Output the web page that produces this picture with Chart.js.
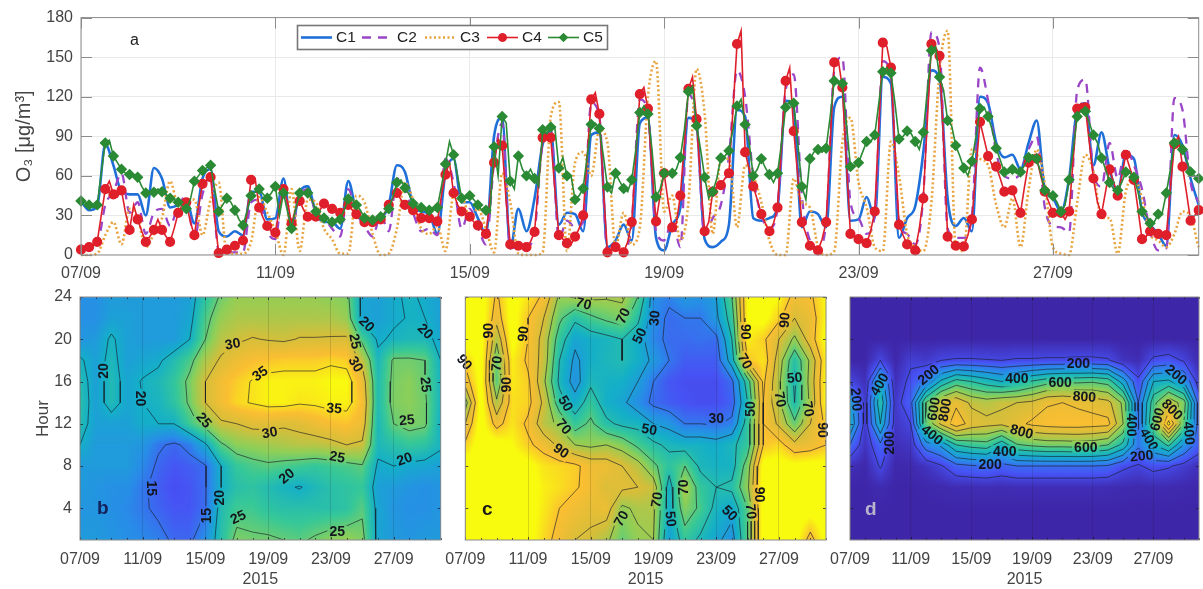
<!DOCTYPE html>
<html>
<head>
<meta charset="utf-8">
<style>
  html, body { margin: 0; padding: 0; background: #fff; overflow: hidden; }
  canvas { position: absolute; left: 0; top: 0; filter: blur(0.35px); }
</style>
<script src="https://cdn.jsdelivr.net/npm/chart.js@4/dist/chart.umd.min.js"></script>
</head>
<body>
<canvas id="chartA" width="1203" height="589"></canvas>
<canvas id="chartB" width="1203" height="589"></canvas>
<canvas id="chartC" width="1203" height="589"></canvas>
<canvas id="chartD" width="1203" height="589"></canvas>
<script>
// x axis is days since 07/09, one tick label every 4 days
const dayTicks = ['07/09', '11/09', '15/09', '19/09', '23/09', '27/09'];
const o3Ticks = [0, 30, 60, 90, 120, 150, 180];
const hourTicks = [4, 8, 12, 16, 20, 24];
const seriesNames = ['C1', 'C2', 'C3', 'C4', 'C5'];

// O3 read every 4 hours
const c1 = [41,34,37,84,68,48,46,46,30,66,58,36,38,42,24,58,65,18,14,18,15,48,48,27,28,58,20,48,52,32,25,25,20,56,33,26,27,28,38,68,63,38,
  33,31,16,62,73,40,40,28,16,90,104,5,35,18,43,84,94,23,32,31,18,91,93,6,11,23,11,100,104,13,3.5,23,36,104,98,12,6,10,23,110,105,28,26,28,36,117,110,21,33,31,
  21,112,120,26,27,44,28,135,130,13,28,37,78,140,133,43,22,28,18,120,115,85,74,76,65,85,102,50,43,33,58,110,115,68,93,65,48,76,73,33,23,16,7,91,83,58,38];
const c2 = [3,6,8,38,48,62,32,40,16,32,35,22,38,44,12,46,60,3,2,2,2,40,42,18,12,54,22,45,50,32,28,20,14,50,32,22,14,30,18,58,50,32,
  18,20,15,73,55,20,35,21,8,70,100,5,6,6,18,85,95,12,26,21,25,115,105,2,5,3,25,118,108,18,11,26,6,122,100,15,28,38,75,140,120,60,30,20,36,125,137,45,11,5,
  25,140,150,40,28,16,30,147,135,25,16,8,45,169,157,20,13,13,30,142,117,78,60,58,62,80,90,36,22,21,17,125,133,62,52,85,58,81,68,50,18,3.5,5,119,110,55,40];
const c3 = [0,0,1,15,25,8,35,28,6,16,28,56,38,42,42,15,42,55,1,1,1,10,44,32,18,0,50,3,42,40,20,12,1,1,45,40,16,0,1,20,55,42,20,
  16,22,3,45,45,28,35,20,2,62,40,1,0,0,2,105,116,3,70,78,60,95,85,6,32,8,21,120,147,33,45,11,40,141,107,16,73,73,21,68,60,40,11,0,0,58,40,36,6,0,
  3,85,104,55,36,6,3,86,60,16,6,3,40,140,170,6,3,80,73,68,38,21,43,6,50,80,54,6,1,0,40,76,63,28,28,1,48,58,43,16,11,6,16,33,30,6,0];
const c4 = [4,6,10,50,46,49,19,27,10,19,19,10,32,40,15,54,59,1.5,4,7,11,57,36,22,17,50,24,41,29,29,39,35,32,38,31,25,25,27,38,47,38,34,
  28,28,25.5,61,47,33,29,22.5,16,70,83,8,7,6,17.5,89,89,15,9,14,30,118,107,2,6,2,25,122,111,25.5,62,21,45,126,103,18,48,53,62,160,78,52,31,18,36,132,94,25,7,3.5,
  25,146,127,16,12,9,33,161,142,23,8,3.5,43,160,151,14,7,6.5,27,101,75,67,48,49,32,70,73,48,32,32,33,111,112,58,31,65,45,76,57,12,18,16,15,84,67,26,34];
const c5 = [41,38,38,85,75,65,61,59,47,47.5,48,43,40,35,56,64,68,33,43,34,22.5,45,50,43,52,47,20,47,47,33,28,25,27,42.5,38,28,26.5,29,35,55,51,39,
  36,34,36,69,76,43,45,38,34,82,105,56,75,60,58,95,97,66,60,42,50.5,99,96,51.5,62,50.5,57,108,107,44,62,62,74,124,98,59,48,73.5,79,113,99,60,73,61,62,112,115,52,73,80,
  81,132,130,67,70,86,91,139,138,88,94,86,93,155,135,102,83,66,71,111,105,81,63,65,63,74,73,49,45,33,57,105,109,91,73.5,55,49,63,59,33,24,31,47,85,80,63,58];
// C4 and C5 readings half way between the markers, two hours later
const c4Mid = [7,7,30,56,44,32,38,18,14,27,14,20,38,25,36,57,28,2,5,9,32,58,28,18,36,40,35,34,29,34,38,33,35,34,28,25,25,32,43,42,36,
  31,28,27,45,70,38,31,25,19,42,88,40,8,8,10,55,92,50,12,8,20,75,123,50,4,4,10,75,127,65,45,40,24,85,135,55,25,52,58,110,170,65,42,24,24,85,142,60,16,5,
  12,85,148,70,14,10,18,98,158,80,15,5,20,102,158,85,10,6,15,65,88,68,58,47,40,52,75,60,40,32,27,72,115,85,40,48,55,60,66,35,14,17,15,50,90,47,30];
const c5Mid = [40,36,62,87,70,62,60,52,47,50,46,42,37,42,60,66,50,38,40,27,33,48,46,47,30,33,35,47,42,30,27,26,34,42,34,27,26,32,44,57,46,
  37,35,35,52,86,60,44,42,34,32,60,100,50,65,65,52,92,97,74,60,45,75,100,75,47,56,48,80,113,80,50,62,65,95,128,80,43,58,75,95,118,85,65,66,55,85,117,85,42,78,
  78,105,130,100,68,78,86,115,142,115,90,92,80,125,158,125,98,75,60,90,112,95,72,62,62,68,76,62,47,40,38,80,110,100,85,65,50,55,62,48,30,25,32,65,87,72,60];

// grids for the three panels, one value per day, rows listed from hour 24 down to hour 1
const hourNodes = [24, 22, 20, 18, 16, 14, 12, 10, 8, 6, 4, 1];
const gridB = [
  [17,17,18,18,18,18,18,18.5,22.5,25.5,27,27,27,27,27,27,26.5,26,19,18.5,19.5,20.5,19.5,18.5],
  [17,17,18.5,18.5,18,18,18,19,24,27,28,28,28,28,28,28,28,27,19,18.5,19.5,20.2,20,18.5],
  [17.5,18,20.5,18.5,18,18,18,20,25,28.5,29.5,30.2,29.8,29.5,30.2,30.2,30.3,30.5,24,19.5,20.5,21,21,19],
  [20.5,18.5,21,18.5,19,19.5,21.5,24,28,30.5,32,33,33.5,34,34,34,34.5,34,29,20.8,25.5,25.5,25,20],
  [21.5,18.5,21.3,19,20.2,21,22.8,25.8,30,32.5,34,35.2,36,36,36,36,36.5,36.5,32,21.5,25.8,26.5,25,20.5],
  [22,18.5,21.3,19,20,20.5,22.5,25.5,30,32.5,34.5,35.2,36,36,35.3,35.5,36,36,33,21.5,26,26.5,25.5,20.5],
  [21.5,18.5,18.5,18.5,19.7,20,20,23.5,26.5,29.5,30,31,31,30.5,31,32,33,33.5,32,21,25,26,25.5,20],
  [20,18,18,18,17.5,15.4,14.5,15.8,19.5,24.5,26.5,27,27.5,28,28.5,28.5,29,30,29.5,21,22,23,22.5,20.5],
  [18,18,18,18,16.5,14.5,13.5,14,14.8,20,23,24,24.5,24,23.5,23,23.5,24,24.7,19.5,20,19.3,19,18.5],
  [18,17.5,17,17,15.5,14,13,13.5,14.8,20,22,22.5,21.5,20.5,19.8,21,22,22.5,23,18.5,18,17.5,17,17.5],
  [17.5,17.5,17,16.5,15.5,14.3,13.5,13.5,14.8,21.5,23.5,23.5,22.5,22,22,22,22,22.5,24.5,19,17.5,17,17,17.5],
  [18,18,17.5,17,16.5,16,14.5,14.5,17,22,26,25.5,25.5,25,24.5,25.5,26.5,27,26,19,18,17.5,18,18]
];
const gridC = [
  [105,105,88,104,96,88,68,71,72,71,72,60,35,32,38,36,40,60,100,105,100,86,88,100],
  [105,105,84,104,90,80,62,52,58,62,65,52,35,28,30,30,38,55,100,103,92,80,84,100],
  [105,104,72,103,90,76,55,42,45,47,50,45,33,28,28,29,28,50,98,92,80,68,85,102],
  [92,104,62,98,88,76,50,38,45,48,50,45,38,30,25,25,25,45,90,96,75,52,72,98],
  [85,103,60,97,92,72,48,36,48,46,45,40,30,24,22,22,22,28,55,92,72,48,74,100],
  [65,104,72,95,93,78,54,44,55,45,42,35,28,25,23,22,22,26,50,90,72,50,72,100],
  [80,104,86,96,88,74,68,55,62,52,48,47,40,37,30,30,29,32,55,90,78,62,80,92],
  [92,106,104,100,92,86,78,70,68,70,66,58,52,48,46,46,44,48,55,90,94,83,85,90],
  [105,106,105,105,103,96,94,92,86,85,80,74,62,54,60,48,46,46,65,103,104,102,103,103],
  [105,106,105,105,104,98,95,91,87,80,82,80,76,45,72,55,50,52,68,104,105,105,105,105],
  [105,106,105,105,104,97,90,86,83,85,68,72,72,45,66,58,47,43,60,105,105,105,105,105],
  [105,106,105,105,104,94,86,80,78,72,62,68,70,40,55,48,42,36,60,104,105,105,85,104]
];
const gridD = [
  [0,0,0,0,0,0,0,0,0,0,0,0,0,0,0,0,0,0,0,0,0,0,0,0],
  [0,0,0,0,0,0,0,0,0,0,0,0,0,0,0,0,0,0,0,0,0,0,0,0],
  [0,0,0,0,0,0,0,0,0,0,0,0,0,0,0,0,0,0,0,0,0,0,0,0],
  [0,0,100,5,80,60,100,110,110,105,100,110,110,115,115,120,120,110,40,20,120,140,90,10],
  [100,30,380,30,130,220,420,540,500,450,400,440,510,560,580,580,590,560,350,120,400,420,300,50],
  [350,60,480,60,170,600,800,880,780,750,790,800,820,890,900,880,860,830,680,200,560,780,650,150],
  [400,60,400,50,100,600,820,960,860,830,820,870,920,940,950,950,940,930,700,190,620,1040,600,150],
  [200,40,180,30,50,250,320,500,540,560,430,590,620,640,640,650,640,600,470,220,400,520,300,150],
  [30,5,110,5,10,40,90,170,190,200,170,200,200,200,200,200,200,190,120,90,130,110,70,30],
  [0,0,15,0,0,5,10,20,20,25,20,25,25,25,25,25,25,20,15,10,15,15,10,5],
  [0,0,0,0,0,0,0,0,0,0,0,0,0,0,0,0,0,0,0,0,0,0,0,0],
  [0,0,0,0,0,0,0,0,0,0,0,0,0,0,0,0,0,0,0,0,0,0,0,0]
];

const levelsB = [15, 20, 25, 30, 35];
const levelsC = [30, 40, 50, 60, 70, 80, 90];
const levelsD = [100, 200, 300, 400, 500, 600, 700, 800, 900, 1000];

// contour labels: [day, hour, text, angle]
const labelsB = [[1.55,17,'20',-90],[3.83,14.4,'20',90],[7.87,12.3,'25',50],[9.74,19.5,'30',-10],[11.5,16.7,'35',-35],
  [12.1,11.1,'30',-10],[16.2,13.4,'35',5],[16.4,8.8,'25',10],[13.2,7,'20',-40],[10.1,3.1,'25',-25],[16.4,1.7,'25',0],
  [8.94,5,'20',-90],[4.53,5.9,'15',90],[8.1,3.3,'15',-90],[17.5,19.8,'25',80],[17.55,17.6,'30',60],[18.25,21.4,'20',45],
  [22,20.7,'20',45],[22,15.7,'25',85],[20.85,12.3,'25',-5],[20.7,8.6,'20',-20]];
const labelsC = [[7.53,23.3,'70',15],[10.1,22.2,'70',-65],[12.1,22,'30',-85],[11.15,20.3,'50',-65],[1.53,20.8,'90',-90],
  [3.74,20.5,'90',-85],[-0.08,17.8,'90',50],[2.04,17.7,'70',-85],[2.68,15.7,'90',-90],[6.36,13.9,'50',60],[6.25,11.7,'70',50],
  [6.09,9.4,'90',35],[11.72,11.4,'50',10],[16,12.4,'30',0],[18.23,13.4,'50',-90],[17.8,17.9,'70',60],[17.85,20.7,'90',90],
  [20.4,21.8,'90',-85],[21,16.3,'50',-5],[20.04,14.3,'70',80],[21.83,13.4,'70',80],[22.74,11.4,'90',90],[13.96,6,'70',-90],
  [12.26,4.8,'70',-80],[13.06,3,'50',85],[16.83,3.5,'50',45],[18.17,3.7,'70',85],[18.7,5.3,'90',90],[9.98,3,'70',-60]];
const labelsD = [[0.37,14.3,'200',85],[1.98,15.7,'400',-60],[2.64,10.2,'200',-90],[5.2,16.6,'200',-40],[5.56,13.4,'600',-80],
  [6.3,13.3,'800',-80],[5.38,10.9,'400',40],[11,16.2,'400',0],[13.85,15.8,'600',0],[15.05,17.6,'200',0],[15.45,14.5,'800',3],
  [11.3,11.2,'800',15],[10.2,9.3,'400',0],[9.23,8.1,'200',0],[15.54,9.7,'600',0],[18.53,11.9,'400',90],[19.67,10.5,'400',60],
  [19.23,8.9,'200',-5],[20.3,12.4,'600',-75],[21.2,13.3,'800',45],[21.47,16.6,'200',40],[22.3,11.1,'400',85]];

const parula = [[62,38,168],[71,82,244],[40,140,232],[20,175,200],[55,200,151],[141,207,88],[213,190,58],[250,190,50],[249,251,14]];
const fontName = '"Liberation Sans", Arial, sans-serif';
const textGrey = '#444';

function parulaColor(t) {
  t = Math.max(0, Math.min(1, t)) * (parula.length - 1);
  const i = Math.min(parula.length - 2, Math.floor(t));
  const f = t - i;
  return [0, 1, 2].map(k => parula[i][k] + (parula[i + 1][k] - parula[i][k]) * f);
}

function gridValue(grid, day, hour) {
  const d = Math.max(0, Math.min(22.999, day));
  const i = Math.floor(d), fx = d - i;
  let j = 0;
  while (j < hourNodes.length - 2 && hour < hourNodes[j + 1]) j++;
  const fy = Math.max(0, Math.min(1, (hourNodes[j] - hour) / (hourNodes[j] - hourNodes[j + 1])));
  const top = grid[j][i] * (1 - fx) + grid[j][i + 1] * fx;
  const low = grid[j + 1][i] * (1 - fx) + grid[j + 1][i + 1] * fx;
  return top * (1 - fy) + low * fy;
}

// marching squares, every segment ends with a NaN point so the line breaks there
function contourPoints(grid, level) {
  const pts = [];
  const cross = (x0, y0, v0, x1, y1, v1) => {
    const f = (level - v0) / (v1 - v0);
    return { x: x0 + (x1 - x0) * f, y: y0 + (y1 - y0) * f };
  };
  for (let j = 0; j < hourNodes.length - 1; j++) {
    for (let i = 0; i < 23; i++) {
      const a = grid[j][i], b = grid[j][i + 1], c = grid[j + 1][i + 1], d = grid[j + 1][i];
      const h0 = hourNodes[j], h1 = hourNodes[j + 1];
      const hits = [];
      if ((a < level) !== (b < level)) hits.push(cross(i, h0, a, i + 1, h0, b));
      if ((b < level) !== (c < level)) hits.push(cross(i + 1, h0, b, i + 1, h1, c));
      if ((c < level) !== (d < level)) hits.push(cross(i + 1, h1, c, i, h1, d));
      if ((d < level) !== (a < level)) hits.push(cross(i, h1, d, i, h0, a));
      for (let k = 0; k + 1 < hits.length; k += 2) {
        pts.push(hits[k], hits[k + 1], { x: NaN, y: NaN });
      }
    }
  }
  return pts;
}

function fixedAxis(size) {
  return function (scale) {
    if (scale.isHorizontal()) scale.height = size; else scale.width = size;
  };
}

function dayScale(titleText) {
  return {
    type: 'linear', min: 0, max: 23,
    afterFit: fixedAxis(titleText ? 49 : 30),
    border: { display: false },
    grid: { color: titleText ? 'rgba(30,30,30,0.16)' : '#e9e9e9', drawTicks: false, z: titleText ? 1 : 0 },
    title: { display: !!titleText, text: titleText, color: textGrey, font: { family: fontName, size: 16 }, padding: 0 },
    ticks: {
      stepSize: 4, includeBounds: false, maxRotation: 0, autoSkip: false, color: textGrey, padding: titleText ? 10 : 9,
      font: { family: fontName, size: 16 },
      callback: v => dayTicks[v / 4]
    }
  };
}

// inward tick marks on the frame, through the scales
function drawFrame(chart, majorLen, minorLen, color) {
  const ctx = chart.ctx, a = chart.chartArea, xs = chart.scales.x, ys = chart.scales.y;
  ctx.save();
  ctx.strokeStyle = color;
  ctx.lineWidth = 1;
  ctx.beginPath();
  for (let d = 0; d <= 23; d++) {
    const len = d % 4 === 0 ? majorLen : minorLen;
    if (!len) continue;
    const px = Math.round(xs.getPixelForValue(d)) + 0.5;
    ctx.moveTo(px, a.top); ctx.lineTo(px, a.top + len);
    ctx.moveTo(px, a.bottom); ctx.lineTo(px, a.bottom - len);
  }
  ys.ticks.forEach(t => {
    const py = Math.round(ys.getPixelForValue(t.value)) + 0.5;
    ctx.moveTo(a.left, py); ctx.lineTo(a.left + majorLen, py);
    ctx.moveTo(a.right, py); ctx.lineTo(a.right - majorLen, py);
  });
  ctx.stroke();
  ctx.strokeStyle = '#8c8c8c';
  ctx.strokeRect(a.left, a.top, a.right - a.left, a.bottom - a.top);
  ctx.restore();
}

function makeHeatPanel(id, grid, cmin, cmax, levels, labels, box, letter) {
  const heatLayer = document.createElement('canvas');
  new Chart(document.getElementById(id), {
    type: 'scatter',
    data: {
      datasets: levels.map(lv => ({
        label: String(lv),
        data: contourPoints(grid, lv),
        showLine: true, spanGaps: false, pointRadius: 0,
        borderColor: 'rgba(25,30,40,0.8)', borderWidth: 0.8
      }))
    },
    options: {
      responsive: false, animation: false, events: [],
      layout: { autoPadding: false, padding: { left: box.left - box.axis, right: 1203 - box.right, top: 297, bottom: 0 } },
      plugins: { legend: { display: false }, tooltip: { enabled: false } },
      scales: {
        x: dayScale('2015'),
        y: {
          type: 'linear', min: 1, max: 24,
          afterFit: fixedAxis(box.axis),
          afterBuildTicks: s => { s.ticks = hourTicks.map(v => ({ value: v })); },
          border: { display: false },
          grid: { display: false, drawTicks: false },
          title: { display: !!box.axis, text: 'Hour', color: textGrey, font: { family: fontName, size: 17 }, padding: { top: 33, bottom: 0 } },
          ticks: { display: !!box.axis, color: textGrey, padding: 8, font: { family: fontName, size: 16 } }
        }
      }
    },
    plugins: [{
      id: 'heat',
      beforeDatasetsDraw(chart) {
        const a = chart.chartArea, xs = chart.scales.x, ys = chart.scales.y;
        const w = Math.round(a.right - a.left), h = Math.round(a.bottom - a.top);
        heatLayer.width = w; heatLayer.height = h;
        const hc = heatLayer.getContext('2d');
        const img = hc.createImageData(w, h);
        for (let py = 0; py < h; py++) {
          const hour = ys.getValueForPixel(a.top + py + 0.5);
          for (let px = 0; px < w; px++) {
            const v = gridValue(grid, xs.getValueForPixel(a.left + px + 0.5), hour);
            const col = parulaColor((v - cmin) / (cmax - cmin));
            const n = (py * w + px) * 4;
            img.data[n] = col[0]; img.data[n + 1] = col[1]; img.data[n + 2] = col[2]; img.data[n + 3] = 255;
          }
        }
        hc.putImageData(img, 0, 0);
        chart.ctx.drawImage(heatLayer, a.left, a.top);
      },
      afterDatasetsDraw(chart) {
        const ctx = chart.ctx, a = chart.chartArea, xs = chart.scales.x, ys = chart.scales.y;
        ctx.font = 'bold 14px ' + fontName;
        ctx.textAlign = 'center';
        ctx.textBaseline = 'middle';
        labels.forEach(l => {
          const px = xs.getPixelForValue(l[0]), py = ys.getPixelForValue(l[1]);
          const rad = l[3] * Math.PI / 180;
          const tw = ctx.measureText(l[2]).width + 4;
          // put the heat colours back under the label so the contour breaks
          ctx.save();
          ctx.translate(px, py);
          ctx.rotate(rad);
          ctx.beginPath();
          ctx.rect(-tw / 2, -7, tw, 14);
          ctx.clip();
          ctx.rotate(-rad);
          ctx.translate(-px, -py);
          ctx.drawImage(heatLayer, a.left, a.top);
          ctx.restore();
          ctx.save();
          ctx.translate(px, py);
          ctx.rotate(rad);
          ctx.fillStyle = '#14161f';
          ctx.fillText(l[2], 0, 0);
          ctx.restore();
        });
      },
      afterDraw(chart) {
        drawFrame(chart, 3, 2, 'rgba(20,20,30,0.7)');
        const ctx = chart.ctx;
        ctx.save();
        ctx.font = 'bold 19px ' + fontName;
        ctx.fillStyle = letter.color;
        ctx.textAlign = 'start';
        ctx.textBaseline = 'middle';
        ctx.fillText(letter.text, letter.x, letter.y);
        ctx.restore();
      }
    }]
  });
}

function series(values) {
  return values.map((v, i) => ({ x: i / 6, y: v }));
}

// markers stay on the 4 hour readings, the line also goes through the 2 hour ones
function seriesWithMid(values, mids) {
  const pts = [];
  values.forEach((v, i) => {
    pts.push({ x: i / 6, y: v });
    if (i < mids.length) pts.push({ x: (i + 0.5) / 6, y: mids[i] });
  });
  return pts;
}

const styleA = {
  C1: { color: '#1f6fd8', width: 2.6, dash: [], smooth: true },
  C2: { color: '#9a45c8', width: 2.3, dash: [9, 7], smooth: true },
  C3: { color: '#e8a33d', width: 2.6, dash: [2, 2.5], smooth: true },
  C4: { color: '#df1f2a', width: 1.6, dash: [], point: 'circle', radius: 4.3 },
  C5: { color: '#2b8a34', width: 1.6, dash: [], point: 'rectRot', radius: 4.6 }
};
const pointsA = [series(c1), series(c2), series(c3), seriesWithMid(c4, c4Mid), seriesWithMid(c5, c5Mid)];

new Chart(document.getElementById('chartA'), {
  type: 'scatter',
  data: {
    datasets: seriesNames.map((name, i) => ({
      label: name,
      data: pointsA[i],
      showLine: true,
      order: 5 - i,
      clip: false,
      borderColor: styleA[name].color,
      backgroundColor: styleA[name].color,
      borderWidth: styleA[name].width,
      borderDash: styleA[name].dash,
      cubicInterpolationMode: styleA[name].smooth ? 'monotone' : 'default',
      pointStyle: styleA[name].point || false,
      pointRadius: c => (styleA[name].radius && c.dataIndex % 2 === 0 ? styleA[name].radius : 0)
    }))
  },
  options: {
    responsive: false, animation: false, events: [],
    layout: { autoPadding: false, padding: { left: 0, right: 4.3, top: 12, bottom: 304 } },
    plugins: { legend: { display: false }, tooltip: { enabled: false } },
    scales: {
      x: dayScale(''),
      y: {
        type: 'linear', min: 0, max: 180,
        afterFit: fixedAxis(81),
        afterBuildTicks: s => { s.ticks = o3Ticks.map(v => ({ value: v })); },
        border: { display: false },
        grid: { color: '#e9e9e9', drawTicks: false },
        title: { display: true, text: 'O₃ [μg/m³]', color: textGrey, font: { family: fontName, size: 20 }, padding: { top: 12, bottom: 0 } },
        ticks: { color: textGrey, padding: 8, font: { family: fontName, size: 16 } }
      }
    }
  },
  plugins: [{
    id: 'frameAndLegend',
    afterDraw(chart) {
      drawFrame(chart, 11, 0, '#8c8c8c');
      const ctx = chart.ctx;
      ctx.save();
      ctx.fillStyle = '#fff';
      ctx.fillRect(297.5, 25.5, 310, 24);
      ctx.strokeStyle = '#777';
      ctx.strokeRect(297.5, 25.5, 310, 24);
      ctx.font = '15.5px ' + fontName;
      ctx.textAlign = 'start';
      ctx.textBaseline = 'middle';
      const starts = [301, 362, 425, 487, 548];
      seriesNames.forEach((name, i) => {
        const s = styleA[name], x0 = starts[i], x1 = x0 + 31, y = 37.5;
        ctx.strokeStyle = s.color;
        ctx.lineWidth = s.width;
        ctx.setLineDash(s.dash);
        ctx.beginPath(); ctx.moveTo(x0, y); ctx.lineTo(x1, y); ctx.stroke();
        ctx.setLineDash([]);
        if (s.point) {
          ctx.fillStyle = s.color;
          Chart.helpers.drawPoint(ctx, { pointStyle: s.point, radius: s.radius, rotation: 0, borderWidth: 0 }, (x0 + x1) / 2, y);
          ctx.fill();
        }
        ctx.fillStyle = '#222';
        ctx.fillText(name, x1 + 4, y + 0.5);
      });
      ctx.font = '16px ' + fontName;
      ctx.fillStyle = '#222';
      ctx.fillText('a', 130, 41);
      ctx.restore();
    }
  }]
});

makeHeatPanel('chartB', gridB, 10, 36.5, levelsB, labelsB, { left: 80, right: 440.7, axis: 80 }, { text: 'b', x: 97, y: 509, color: '#14215a' });
makeHeatPanel('chartC', gridC, 12, 100, levelsC, labelsC, { left: 465.3, right: 826, axis: 0 }, { text: 'c', x: 482, y: 510, color: '#1a1a1a' });
makeHeatPanel('chartD', gridD, 0, 1080, levelsD, labelsD, { left: 850, right: 1199, axis: 0 }, { text: 'd', x: 865, y: 510, color: '#b9b4cc' });
</script>
</body>
</html>
